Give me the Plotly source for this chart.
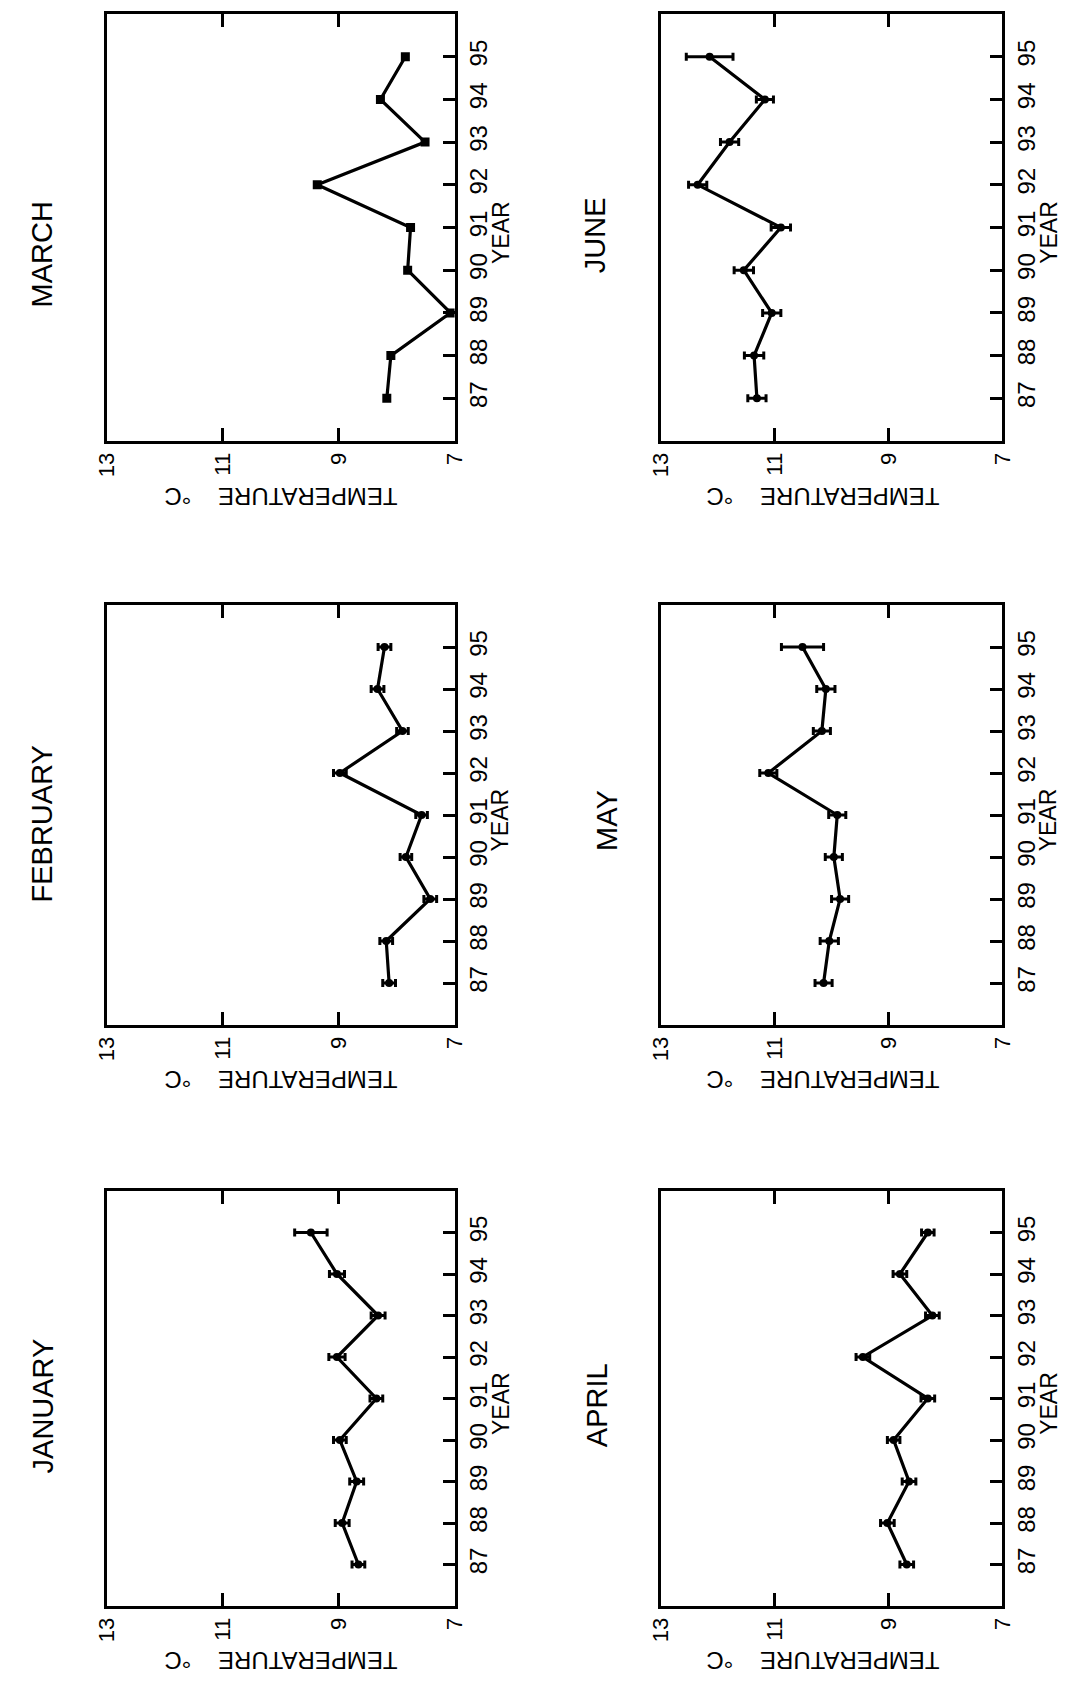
import plotly.graph_objects as go

# ---------------- data ----------------
years = [87, 88, 89, 90, 91, 92, 93, 94, 95]
months = ["JANUARY", "FEBRUARY", "MARCH", "APRIL", "MAY", "JUNE"]

jan_t = [8.66, 8.94, 8.69, 8.98, 8.35, 9.03, 8.32, 9.03, 9.48]
jan_e = [0.11, 0.12, 0.12, 0.11, 0.11, 0.14, 0.12, 0.13, 0.28]
feb_t = [8.13, 8.18, 7.42, 7.84, 7.57, 8.98, 7.90, 8.33, 8.21]
feb_e = [0.11, 0.11, 0.11, 0.10, 0.10, 0.11, 0.10, 0.11, 0.11]
mar_t = [8.17, 8.10, 7.07, 7.81, 7.76, 9.37, 7.51, 8.28, 7.85]
mar_e = [0, 0, 0, 0, 0, 0, 0, 0, 0]
apr_t = [8.68, 9.02, 8.64, 8.91, 8.31, 9.45, 8.23, 8.80, 8.31]
apr_e = [0.12, 0.12, 0.12, 0.11, 0.12, 0.12, 0.12, 0.12, 0.11]
may_t = [10.14, 10.04, 9.85, 9.96, 9.90, 11.11, 10.17, 10.10, 10.51]
may_e = [0.15, 0.16, 0.15, 0.15, 0.15, 0.15, 0.15, 0.16, 0.37]
jun_t = [11.31, 11.36, 11.05, 11.54, 10.89, 12.35, 11.79, 11.17, 12.14]
jun_e = [0.16, 0.17, 0.16, 0.17, 0.17, 0.16, 0.16, 0.15, 0.41]

temp_ticks = [7, 9, 11, 13]
temp_range = [13, 7]
year_range = [86, 96]

series = [jan_t, feb_t, mar_t, apr_t, may_t, jun_t]
errors = [jan_e, feb_e, mar_e, apr_e, may_e, jun_e]
symbols = ["circle", "circle", "square", "circle", "circle", "circle"]

# ---------------- layout geometry (pixels) ----------------
W, H = 1067, 1685
cols = [(88, 444), (655, 1005)]
rows = {"bottom": (1183, 1598), "mid": (597, 1017), "top": (6, 433)}
panel_pos = [
    (0, "bottom"), (0, "mid"), (0, "top"),
    (1, "bottom"), (1, "mid"), (1, "top"),
]
title_pos = [(23, 1398), (22, 816), (22, 246), (590, 1397), (600, 812), (588, 227)]

FONT = "Liberation Sans, Arial, Helvetica, sans-serif"

def px(x):
    return x / W

def py(y):
    return 1 - y / H

fig = go.Figure()
layout = dict(
    width=W, height=H, margin=dict(l=0, r=0, t=0, b=0),
    paper_bgcolor="white", plot_bgcolor="white", showlegend=False,
    font=dict(family=FONT, color="black"),
)
annotations = []

for i, (name, t, e, sym) in enumerate(zip(months, series, errors, symbols)):
    n = i + 1
    xa = "x" if n == 1 else f"x{n}"
    ya = "y" if n == 1 else f"y{n}"
    c, r = panel_pos[i]
    l, rr = cols[c]
    top, bot = rows[r]
    fig.add_trace(go.Scatter(
        x=t, y=years, xaxis=xa, yaxis=ya, mode="lines+markers",
        line=dict(color="black", width=3.2),
        marker=dict(symbol=sym, size=9 if sym == "square" else 8, color="black"),
        error_x=dict(type="data", array=e, visible=any(v > 0 for v in e),
                     color="black", thickness=3, width=4),
    ))
    layout[f"xaxis{'' if n == 1 else n}"] = dict(
        domain=[px(l), px(rr)], anchor=ya, range=temp_range,
        tickvals=temp_ticks, ticktext=[str(v) for v in temp_ticks],
        ticks="inside", ticklen=13, tickwidth=3, tickcolor="black",
        showline=True, linewidth=3, linecolor="black", mirror="ticks",
        showgrid=False, zeroline=False, tickangle=-90,
        tickfont=dict(family=FONT, size=22, color="black"),
        ticklabelstandoff=0,
    )
    layout[f"yaxis{'' if n == 1 else n}"] = dict(
        domain=[py(bot), py(top)], anchor=xa, range=year_range, side="right",
        tickvals=years, ticktext=[str(v) for v in years],
        ticks="inside", ticklen=12, tickwidth=3, tickcolor="black",
        showline=True, linewidth=3, linecolor="black", mirror=True,
        showgrid=False, zeroline=False, tickangle=-90,
        tickfont=dict(family=FONT, size=24, color="black"),
        ticklabelstandoff=1,
    )
    tx, ty = title_pos[i]
    annotations.append(dict(
        text=name, x=px(tx), y=py(ty), xref="paper", yref="paper",
        showarrow=False, textangle=-90, xanchor="center", yanchor="middle",
        font=dict(family=FONT, size=29, color="black"),
    ))
    cx = (l + rr) / 2 - (0 if c == 0 else 9)
    annotations.append(dict(
        text="TEMPERATURE\u00a0\u00a0\u00a0\u00a0°C", x=px(cx), y=py(bot + 55),
        xref="paper", yref="paper", showarrow=False, textangle=180,
        xanchor="center", yanchor="middle",
        font=dict(family=FONT, size=24, color="black"),
    ))
    annotations.append(dict(
        text="YEAR", x=px(rr + 47), y=py((top + bot) / 2 + 5),
        xref="paper", yref="paper", showarrow=False, textangle=-90,
        xanchor="center", yanchor="middle",
        font=dict(family=FONT, size=23, color="black"),
    ))

layout["annotations"] = annotations
fig.update_layout(**layout)
fig.write_html("out.html")
